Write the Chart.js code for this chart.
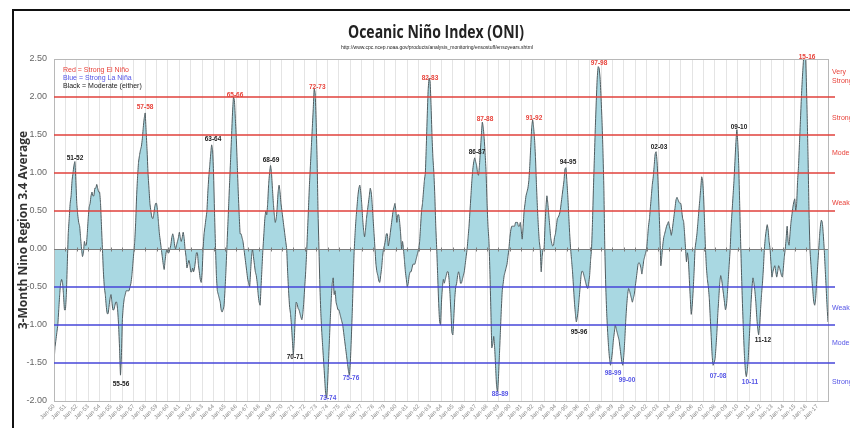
<!DOCTYPE html>
<html>
<head>
<meta charset="utf-8">
<script src="https://cdn.jsdelivr.net/npm/chart.js@4.4.0/dist/chart.umd.min.js"></script>
<style>
  html, body { margin: 0; padding: 0; background: #fff; }
  #wrap { width: 850px; height: 428px; }
</style>
</head>
<body>
<div id="wrap"><canvas id="oni" width="850" height="428"></canvas></div>
<script>
// Monthly ONI values, Jan 1950 .. Dec 2017
const startYear = 1950;

const oni1950s = [
  -1.5, -1.3, -1.2, -1.1, -1.0, -0.8, -0.6, -0.45, -0.4, -0.45, -0.6, -0.8,
  -0.8, -0.6, -0.2, 0.2, 0.4, 0.6, 0.7, 0.9, 1.0, 1.1, 1.15, 0.9,
  0.6, 0.45, 0.35, 0.3, 0.15, 0.0, -0.1, -0.05, 0.1, 0.05, 0.05, 0.2,
  0.4, 0.55, 0.6, 0.7, 0.75, 0.7, 0.7, 0.8, 0.8, 0.85, 0.8, 0.75,
  0.75, 0.6, 0.3, 0.0, -0.3, -0.5, -0.6, -0.75, -0.85, -0.85, -0.75, -0.65,
  -0.6, -0.7, -0.8, -0.8, -0.75, -0.7, -0.7, -0.8, -1.0, -1.3, -1.66, -1.4,
  -0.93, -0.75, -0.65, -0.6, -0.55, -0.55, -0.55, -0.55, -0.5, -0.45, -0.35, -0.2,
  -0.05, 0.1, 0.35, 0.7, 0.95, 1.14, 1.23, 1.3, 1.35, 1.45, 1.6, 1.72,
  1.79, 1.55, 1.3, 1.0, 0.8, 0.6, 0.5, 0.42, 0.4, 0.45, 0.55, 0.6,
  0.6, 0.5, 0.35, 0.2, 0.1, 0.0, -0.1, -0.2, -0.27, -0.15, -0.05, 0.0
];
const oni1960s = [
  -0.05, -0.05, 0.0, 0.05, 0.15, 0.2, 0.15, 0.05, 0.0, 0.05, 0.1, 0.15,
  0.22, 0.15, 0.1, 0.15, 0.22, 0.15, 0.0, -0.1, -0.25, -0.2, -0.15, -0.2,
  -0.3, -0.3, -0.25, -0.3, -0.25, -0.15, -0.05, -0.05, -0.2, -0.3, -0.4, -0.44,
  -0.3, 0.0, 0.2, 0.3, 0.4, 0.5, 0.75, 0.95, 1.1, 1.25, 1.37, 1.3,
  1.0, 0.5, 0.05, -0.35, -0.55, -0.6, -0.65, -0.7, -0.8, -0.83, -0.8, -0.75,
  -0.55, -0.3, 0.0, 0.3, 0.6, 0.9, 1.2, 1.5, 1.8, 2.0, 1.95, 1.7,
  1.45, 1.1, 0.75, 0.45, 0.2, 0.2, 0.15, 0.1, 0.0, -0.1, -0.2, -0.3,
  -0.4, -0.45, -0.5, -0.3, -0.1, 0.0, -0.1, -0.2, -0.3, -0.35, -0.45, -0.6,
  -0.7, -0.74, -0.5, -0.25, 0.0, 0.2, 0.4, 0.5, 0.45, 0.6, 0.85, 1.0,
  1.1, 1.0, 0.8, 0.6, 0.45, 0.35, 0.4, 0.55, 0.75, 0.84, 0.75, 0.6
];
const oni1970s = [
  0.5, 0.4, 0.3, 0.2, 0.1, 0.0, -0.3, -0.55, -0.75, -0.85, -1.0, -1.2,
  -1.39, -1.2, -0.9, -0.7, -0.72, -0.78, -0.8, -0.85, -0.9, -0.93, -0.85, -0.7,
  -0.5, -0.3, -0.05, 0.25, 0.55, 0.85, 1.1, 1.35, 1.6, 1.85, 2.11, 2.05,
  1.7, 1.2, 0.5, 0.0, -0.5, -0.85, -1.1, -1.3, -1.5, -1.7, -1.9, -1.96,
  -1.8, -1.5, -1.2, -0.9, -0.65, -0.45, -0.38, -0.6, -0.55, -0.7, -0.75, -0.8,
  -0.8, -0.85, -0.9, -0.95, -1.0, -1.1, -1.2, -1.3, -1.4, -1.5, -1.6, -1.66,
  -1.5, -1.2, -0.85, -0.45, -0.05, 0.2, 0.4, 0.55, 0.7, 0.8, 0.84, 0.75,
  0.6, 0.4, 0.25, 0.16, 0.25, 0.4, 0.5, 0.6, 0.7, 0.8, 0.75, 0.6,
  0.4, 0.2, 0.0, -0.2, -0.3, -0.35, -0.42, -0.44, -0.35, -0.25, -0.1, 0.0,
  0.05, 0.12, 0.2, 0.2, 0.04, 0.1, 0.2, 0.3, 0.4, 0.5, 0.55, 0.6
];
const oni1980s = [
  0.5, 0.35, 0.45, 0.45, 0.35, 0.2, 0.0, 0.1, 0.0, -0.15, -0.3, -0.4,
  -0.5, -0.45, -0.35, -0.3, -0.3, -0.25, -0.2, -0.2, -0.2, -0.15, -0.1, -0.05,
  0.0, 0.1, 0.3, 0.5, 0.6, 0.75, 0.9, 1.0, 1.35, 1.75, 2.1, 2.25,
  2.2, 1.9, 1.5, 1.2, 1.0, 0.7, 0.3, 0.0, -0.35, -0.7, -0.95, -1.0,
  -0.7, -0.5, -0.4, -0.45, -0.4, -0.35, -0.3, -0.3, -0.4, -0.6, -0.85, -1.1,
  -1.13, -0.9, -0.65, -0.5, -0.45, -0.35, -0.3, -0.35, -0.45, -0.45, -0.4, -0.35,
  -0.3, -0.2, -0.1, 0.0, 0.15, 0.3, 0.5, 0.7, 0.9, 1.05, 1.15, 1.2,
  1.15, 1.1, 1.0, 0.97, 1.1, 1.3, 1.5, 1.67, 1.6, 1.45, 1.25, 1.0,
  0.6, 0.3, 0.1, -0.3, -0.8, -1.3, -1.25, -1.15, -1.3, -1.55, -1.8, -1.88,
  -1.7, -1.4, -1.1, -0.8, -0.55, -0.45, -0.35, -0.3, -0.25, -0.2, -0.1, 0.0
];
const oni1990s = [
  0.15, 0.25, 0.3, 0.3, 0.3, 0.3, 0.35, 0.35, 0.35, 0.3, 0.3, 0.35,
  0.25, 0.13, 0.3, 0.5, 0.6, 0.7, 0.75, 0.8, 0.9, 1.1, 1.35, 1.6,
  1.7, 1.6, 1.45, 1.2, 0.85, 0.55, 0.3, 0.1, 0.0, -0.3, -0.1, 0.0,
  0.0, 0.3, 0.55, 0.7, 0.6, 0.45, 0.3, 0.15, 0.08, 0.04, 0.05, 0.15,
  0.2, 0.3, 0.4, 0.42, 0.45, 0.5, 0.6, 0.7, 0.8, 0.9, 1.05, 1.07,
  0.9, 0.7, 0.45, 0.2, 0.0, -0.15, -0.3, -0.5, -0.7, -0.85, -0.96, -0.9,
  -0.8, -0.65, -0.5, -0.35, -0.29, -0.3, -0.35, -0.4, -0.45, -0.5, -0.52, -0.45,
  -0.35, -0.15, 0.0, 0.35, 0.8, 1.2, 1.6, 1.95, 2.25, 2.4, 2.38, 2.25,
  2.0, 1.7, 1.3, 0.8, 0.0, -0.5, -0.85, -1.1, -1.3, -1.45, -1.53, -1.45,
  -1.35, -1.2, -1.1, -1.0, -1.05, -1.1, -1.15, -1.2, -1.3, -1.4, -1.5, -1.53
];
const oni2000s = [
  -1.4, -1.2, -0.95, -0.75, -0.6, -0.52, -0.55, -0.6, -0.65, -0.7, -0.65, -0.6,
  -0.5, -0.4, -0.3, -0.2, -0.18, -0.2, -0.25, -0.33, -0.25, -0.15, -0.1, -0.05,
  0.0, 0.15, 0.3, 0.4, 0.55, 0.7, 0.85, 0.95, 1.1, 1.25, 1.28, 1.15,
  0.9, 0.55, 0.2, -0.22, -0.1, 0.05, 0.15, 0.2, 0.25, 0.3, 0.33, 0.36,
  0.3, 0.25, 0.18, 0.25, 0.35, 0.45, 0.55, 0.65, 0.68, 0.65, 0.62, 0.6,
  0.6, 0.5, 0.4, 0.36, 0.2, 0.0, -0.17, -0.05, -0.15, -0.4, -0.65, -0.86,
  -0.75, -0.55, -0.3, 0.0, 0.1, 0.2, 0.35, 0.5, 0.65, 0.8, 0.95, 0.9,
  0.7, 0.35, 0.0, -0.25, -0.4, -0.5, -0.65, -0.9, -1.15, -1.4, -1.53, -1.5,
  -1.45, -1.3, -1.1, -0.85, -0.65, -0.45, -0.35, -0.4, -0.5, -0.6, -0.7, -0.8,
  -0.75, -0.6, -0.4, -0.2, 0.0, 0.3, 0.5, 0.7, 0.9, 1.15, 1.4, 1.57
];
const oni2010s = [
  1.4, 1.1, 0.6, 0.1, -0.35, -0.75, -1.1, -1.4, -1.6, -1.68, -1.6, -1.45,
  -1.2, -0.95, -0.7, -0.5, -0.38, -0.45, -0.55, -0.7, -0.9, -1.05, -1.13, -1.0,
  -0.8, -0.6, -0.45, -0.25, 0.0, 0.15, 0.25, 0.32, 0.25, 0.1, 0.0, -0.2,
  -0.37, -0.3, -0.25, -0.22, -0.3, -0.37, -0.3, -0.22, -0.25, -0.3, -0.35, -0.37,
  -0.25, -0.1, 0.0, 0.15, 0.3, 0.1, 0.05, 0.2, 0.35, 0.45, 0.55, 0.62,
  0.66, 0.5, 0.6, 0.9, 1.1, 1.4, 1.7, 2.0, 2.25, 2.45, 2.65, 2.65,
  2.3, 1.8, 1.2, 0.5, 0.0, -0.2, -0.4, -0.55, -0.7, -0.74, -0.65, -0.45,
  -0.25, -0.05, 0.15, 0.3, 0.38, 0.35, 0.2, 0.0, -0.25, -0.5, -0.75, -0.96
];

// ENSO strength thresholds
const elNinoLevels = [0.5, 1.0, 1.5, 2.0];
const laNinaLevels = [-0.5, -1.0, -1.5];

// Strength names in the right margin (value = where the word sits)
const strengthNames = ['Very', 'Strong', 'Strong', 'Moderate', 'Weak', 'Weak', 'Moderate', 'Strong'];
const strengthAt = [2.33, 2.21, 1.72, 1.26, 0.61, -0.78, -1.24, -1.75];
const strengthSide = ['nino', 'nino', 'nino', 'nino', 'nino', 'nina', 'nina', 'nina'];

// Event labels: name, decimal year, value, kind
const eventNames = ['51-52', '57-58', '55-56', '63-64', '65-66', '68-69', '70-71', '72-73', '73-74', '75-76',
  '82-83', '86-87', '87-88', '88-89', '91-92', '94-95', '95-96', '97-98', '98-99', '99-00',
  '02-03', '07-08', '09-10', '10-11', '11-12', '15-16'];
const eventYears = [1951.84, 1957.99, 1955.88, 1963.95, 1965.88, 1969.04, 1971.15, 1973.1, 1974.04, 1976.06,
  1982.99, 1987.12, 1987.82, 1989.14, 1992.12, 1995.1, 1996.07, 1997.82, 1999.05, 2000.28,
  2003.09, 2008.27, 2010.11, 2011.07, 2012.21, 2016.08];
const eventValues = [1.2, 1.86, -1.78, 1.45, 2.03, 1.17, -1.43, 2.13, -1.96, -1.7,
  2.25, 1.28, 1.71, -1.91, 1.72, 1.14, -1.09, 2.45, -1.63, -1.72,
  1.34, -1.67, 1.6, -1.75, -1.2, 2.53];
const eventKinds = ['mod', 'nino', 'mod', 'mod', 'nino', 'mod', 'mod', 'nino', 'nina', 'nina',
  'nino', 'mod', 'nino', 'nina', 'nino', 'mod', 'mod', 'nino', 'nina', 'nina',
  'mod', 'nina', 'mod', 'nina', 'mod', 'nino'];

const oni = [].concat(oni1950s, oni1960s, oni1970s, oni1980s, oni1990s, oni2000s, oni2010s);
const lastX = startYear + (oni.length - 1) / 12;
const points = oni.map((v, i) => ({ x: startYear + i / 12, y: v }));

const RED = '#e0413b';
const BLUE = '#4646d8';
const kindColor = { nino: '#e8433b', nina: '#5555e6', mod: '#222' };

Chart.defaults.font.family = '"Liberation Sans", Arial, sans-serif';

const decor = {
  id: 'decor',
  afterDatasetsDraw(chart) {
    const { ctx, chartArea: a, scales: { x, y } } = chart;
    ctx.save();
    // plot frame
    ctx.strokeStyle = '#b8b8b8';
    ctx.lineWidth = 1;
    ctx.strokeRect(a.left + 0.5, a.top + 0.5, a.right - a.left, a.bottom - a.top);

    // zero line with year ticks
    const y0 = Math.round(y.getPixelForValue(0)) + 0.5;
    ctx.strokeStyle = '#7d7d7d';
    ctx.beginPath();
    ctx.moveTo(a.left, y0);
    ctx.lineTo(a.right, y0);
    for (let yr = startYear + 1; yr <= lastX; yr++) {
      const px = Math.round(x.getPixelForValue(yr)) + 0.5;
      ctx.moveTo(px, y0 - 2);
      ctx.lineTo(px, y0 + 2);
    }
    ctx.stroke();

    // threshold lines
    ctx.lineWidth = 1.6;
    const drawLevel = (v, c) => {
      const py = y.getPixelForValue(v);
      ctx.strokeStyle = c;
      ctx.beginPath();
      ctx.moveTo(a.left, py);
      ctx.lineTo(a.right + 7, py);
      ctx.stroke();
    };
    elNinoLevels.forEach(v => drawLevel(v, RED));
    laNinaLevels.forEach(v => drawLevel(v, BLUE));
    ctx.restore();
  },
  afterDraw(chart) {
    const { ctx, chartArea: a, scales: { x, y } } = chart;
    ctx.save();
    // outer frame
    ctx.strokeStyle = '#111';
    ctx.lineWidth = 2;
    ctx.strokeRect(13, 10, 900, 500);

    // title + source
    ctx.fillStyle = '#222';
    ctx.textAlign = 'center';
    ctx.textBaseline = 'alphabetic';
    ctx.font = 'bold 17px "Open Sans"';
    ctx.fillText('Oceanic Niño Index (ONI)', 436, 38, 176);
    ctx.font = '5px "Liberation Sans"';
    ctx.fillText('http://www.cpc.ncep.noaa.gov/products/analysis_monitoring/ensostuff/ensoyears.shtml', 437, 49, 227);

    // y axis title
    ctx.save();
    ctx.translate(24, (a.top + a.bottom) / 2);
    ctx.rotate(-Math.PI / 2);
    ctx.font = 'bold 12px "Open Sans"';
    ctx.fillStyle = '#333';
    ctx.textBaseline = 'middle';
    ctx.fillText('3-Month Nino Region 3.4 Average', 0, 0);
    ctx.restore();

    // key in the corner
    ctx.textAlign = 'left';
    ctx.textBaseline = 'middle';
    ctx.font = '7px "Liberation Sans"';
    ctx.fillStyle = kindColor.nino;
    ctx.fillText('Red = Strong El Niño', a.left + 9, a.top + 11);
    ctx.fillStyle = kindColor.nina;
    ctx.fillText('Blue = Strong La Niña', a.left + 9, a.top + 19);
    ctx.fillStyle = kindColor.mod;
    ctx.fillText('Black = Moderate (either)', a.left + 9, a.top + 27);

    // strength names on the right
    ctx.font = '7px "Liberation Sans"';
    strengthNames.forEach((s, i) => {
      ctx.fillStyle = strengthSide[i] === 'nino' ? kindColor.nino : kindColor.nina;
      ctx.fillText(s, a.right + 4, y.getPixelForValue(strengthAt[i]));
    });

    // event labels
    ctx.textAlign = 'center';
    ctx.font = 'bold 6.5px "Liberation Sans"';
    eventNames.forEach((s, i) => {
      ctx.fillStyle = kindColor[eventKinds[i]];
      ctx.fillText(s, x.getPixelForValue(eventYears[i]), y.getPixelForValue(eventValues[i]));
    });
    ctx.restore();
  }
};

new Chart(document.getElementById('oni'), {
  type: 'line',
  data: {
    datasets: [{
      data: points,
      borderColor: '#4f5b5f',
      borderWidth: 1,
      backgroundColor: '#a9d8e2',
      fill: 'origin',
      pointRadius: 0,
      tension: 0.15
    }]
  },
  options: {
    responsive: false,
    animation: false,
    layout: { padding: { top: 59, right: 22, left: 0, bottom: 0 } },
    plugins: { legend: { display: false }, tooltip: { enabled: false } },
    scales: {
      x: {
        type: 'linear',
        min: startYear,
        max: lastX,
        afterFit: s => { s.height = 27; },
        ticks: {
          stepSize: 1,
          includeBounds: false,
          autoSkip: false,
          maxRotation: 45,
          minRotation: 45,
          padding: 2,
          color: '#8a8a8a',
          font: { size: 6 },
          callback: v => Math.abs(v - Math.round(v)) < 1e-6 ? 'Jan-' + String(Math.round(v)).slice(2) : ''
        },
        grid: { color: '#e4e4e4', drawTicks: false },
        border: { display: false }
      },
      y: {
        min: -2,
        max: 2.5,
        afterFit: s => { s.width = 54; },
        ticks: {
          stepSize: 0.5,
          padding: 7,
          color: '#666',
          font: { size: 9 },
          callback: v => v.toFixed(2)
        },
        grid: { display: false, drawTicks: false },
        border: { display: false }
      }
    }
  },
  plugins: [decor]
});
</script>
</body>
</html>
